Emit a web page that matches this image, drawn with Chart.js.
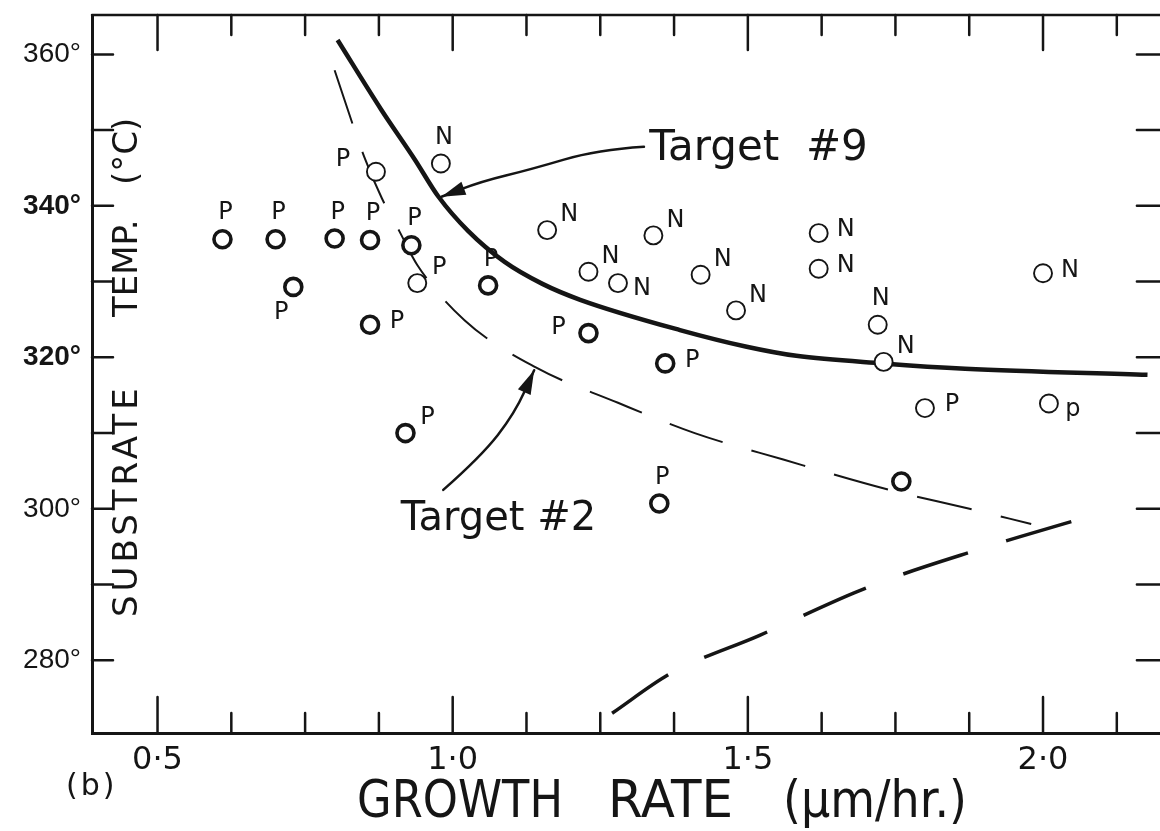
<!DOCTYPE html>
<html lang="en">
<head>
<meta charset="UTF-8">
<title>Substrate temperature vs growth rate</title>
<script src="https://cdn.jsdelivr.net/npm/chart.js@4.4.1/dist/chart.umd.min.js"></script>
<style>
  html, body { margin: 0; padding: 0; background: #fff; overflow: hidden; }
  #wrap { width: 1160px; height: 831px; overflow: hidden; }
  canvas { display: block; }
</style>
</head>
<body>
<div id="wrap"><canvas id="chart" width="1172" height="831"></canvas></div>
<script>
// growth rate (um/hr) and substrate temperature (deg C)
// heavy circles
const heavyRate = [0.61, 0.70, 0.80, 0.86, 0.93, 0.73, 1.06, 1.23, 0.86, 1.36, 0.92, 1.35, 1.76];
const heavyTemp = [335.6, 335.6, 335.7, 335.5, 334.8, 329.3, 329.5, 323.2, 324.3, 319.2, 310.0, 300.7, 303.6];
const heavyType = ['P', 'P', 'P', 'P', 'P', 'P', 'P', 'P', 'P', 'P', 'P', 'P', ''];
// light circles
const lightRate = [0.87, 0.98, 0.94, 1.16, 1.23, 1.28, 1.34, 1.42, 1.62, 1.62, 2.00, 1.48, 1.72, 1.73, 1.80, 2.01];
const lightTemp = [344.5, 345.6, 329.8, 336.8, 331.3, 329.8, 336.1, 330.9, 336.4, 331.7, 331.1, 326.2, 324.3, 319.4, 313.3, 313.9];
const lightType = ['P', 'N', 'P', 'N', 'N', 'N', 'N', 'N', 'N', 'N', 'N', 'N', 'N', 'N', 'P', 'p'];

// Target #9 boundary (solid)
const t9Rate = [0.805, 0.879, 0.936, 0.976, 1.026, 1.088, 1.152, 1.216, 1.385, 1.498, 1.582, 1.729, 1.868, 2.177];
const t9Temp = [361.9, 352.7, 346.1, 341.2, 336.7, 332.6, 329.7, 327.6, 323.6, 321.4, 320.2, 319.2, 318.5, 317.7];
// Target #2 boundary (thin dashed)
const t2Rate = [0.80, 0.85, 0.88, 0.91, 0.94, 1.02, 1.14, 1.28, 1.41, 1.56, 1.74, 1.87, 1.98];
const t2Temp = [357.9, 346.5, 341.0, 336.6, 332.2, 324.9, 318.7, 314.0, 310.0, 306.5, 302.5, 300.1, 298.0];
// lower branch (heavy dashed)
const lowRate = [1.27, 1.37, 1.52, 1.68, 1.76, 1.89, 1.96, 2.07];
const lowTemp = [273.0, 278.3, 283.3, 288.9, 291.3, 294.6, 296.3, 298.8];

// axis ticks
const xTickValues = [0.5, 0.625, 0.75, 0.875, 1.0, 1.125, 1.25, 1.375, 1.5, 1.625, 1.75, 1.875, 2.0, 2.125];
const xLabelValues = [0.5, 1.0, 1.5, 2.0];
const xTickLabels = ['0·5', '1·0', '1·5', '2·0'];
const yTickValues = [280, 290, 300, 310, 320, 330, 340, 350, 360];
const yLabelValues = [280, 300, 320, 340, 360];
const yTickLabels = ['280°', '300°', '320°', '340°', '360°'];

// arrows for the two labels (data coords, tail -> tip)
const arrow9 = [[1.324, 347.8], [1.245, 347.4], [1.132, 344.8], [1.048, 343.2], [0.981, 341.2]];
const arrow2 = [[0.984, 302.5], [1.048, 306.9], [1.105, 312.6], [1.138, 318.3]];

const ink = '#151515';

// where each P / N letter sits around its circle
const heavySpot = ['n', 'n', 'n', 'n', 'n', 'sw', 'n', 'w', 'e', 'e', 'ne', 'n', ''];
const lightSpot = ['nw', 'n', 'ne', 'ne', 'ne', 'se', 'ne', 'ne', 'e', 'e', 'e', 'ne', 'n', 'ne', 'e', 'se'];
const spotOffset = { n: [3, -26], ne: [22, -15], e: [27, -3], se: [24, 6], sw: [-12, 26], w: [-30, -5], nw: [-33, -12] };

const toXY = (xs, ys) => xs.map((x, i) => ({ x: x, y: ys[i] }));

function smoothPath(ctx, pts) {
    ctx.moveTo(pts[0][0], pts[0][1]);
    for (let i = 1; i < pts.length - 1; i++) {
        const mx = (pts[i][0] + pts[i + 1][0]) / 2;
        const my = (pts[i][1] + pts[i + 1][1]) / 2;
        ctx.quadraticCurveTo(pts[i][0], pts[i][1], mx, my);
    }
    const last = pts[pts.length - 1];
    ctx.lineTo(last[0], last[1]);
}

function drawArrow(ctx, xs, ys, path) {
    const pts = path.map(p => [xs.getPixelForValue(p[0]), ys.getPixelForValue(p[1])]);
    ctx.beginPath();
    smoothPath(ctx, pts);
    ctx.lineWidth = 2.5;
    ctx.stroke();
    const tip = pts[pts.length - 1], prev = pts[pts.length - 2];
    const a = Math.atan2(tip[1] - prev[1], tip[0] - prev[0]);
    const len = 24, half = 7;
    ctx.beginPath();
    ctx.moveTo(tip[0], tip[1]);
    ctx.lineTo(tip[0] - len * Math.cos(a) + half * Math.sin(a), tip[1] - len * Math.sin(a) - half * Math.cos(a));
    ctx.lineTo(tip[0] - len * Math.cos(a) - half * Math.sin(a), tip[1] - len * Math.sin(a) + half * Math.cos(a));
    ctx.closePath();
    ctx.fill();
}

const sketchPlugin = {
    id: 'sketch',
    afterDatasetsDraw(chart) {
        const ctx = chart.ctx;
        const area = chart.chartArea;
        const xs = chart.scales.x, ys = chart.scales.y;
        ctx.save();
        ctx.strokeStyle = ink;
        ctx.fillStyle = ink;
        ctx.lineCap = 'round';

        // top frame line
        ctx.lineWidth = 2.5;
        ctx.beginPath();
        ctx.moveTo(area.left, area.top);
        ctx.lineTo(area.right, area.top);
        ctx.stroke();

        // inward ticks on all four sides
        ctx.lineWidth = 2.5;
        xs.ticks.forEach(t => {
            const px = xs.getPixelForValue(t.value);
            const big = xLabelValues.includes(t.value);
            ctx.beginPath();
            ctx.moveTo(px, area.bottom);
            ctx.lineTo(px, area.bottom - (big ? 36 : 20));
            ctx.moveTo(px, area.top);
            ctx.lineTo(px, area.top + (big ? 35 : 20));
            ctx.stroke();
        });
        ys.ticks.forEach(t => {
            const py = ys.getPixelForValue(t.value);
            ctx.beginPath();
            ctx.moveTo(area.left, py);
            ctx.lineTo(area.left + 21, py);
            ctx.moveTo(area.right, py);
            ctx.lineTo(area.right - 23, py);
            ctx.stroke();
        });

        // P / N letters beside the circles
        ctx.font = '24px "DejaVu Sans"';
        ctx.textAlign = 'center';
        ctx.textBaseline = 'middle';
        [[0, heavyType, heavySpot], [1, lightType, lightSpot]].forEach(([di, types, spots]) => {
            const meta = chart.getDatasetMeta(di);
            meta.data.forEach((pt, i) => {
                if (!types[i]) return;
                const off = spotOffset[spots[i]];
                ctx.fillText(types[i], pt.x + off[0], pt.y + off[1]);
            });
        });

        // label arrows
        drawArrow(ctx, xs, ys, arrow9);
        drawArrow(ctx, xs, ys, arrow2);

        // target labels
        ctx.textAlign = 'left';
        ctx.textBaseline = 'alphabetic';
        ctx.font = '42px "DejaVu Sans"';
        ctx.fillText('Target  #9', xs.getPixelForValue(1.333), ys.getPixelForValue(346.0));
        ctx.font = '40px "DejaVu Sans"';
        ctx.fillText('Target #2', xs.getPixelForValue(0.912), ys.getPixelForValue(297.2));

        // y axis title, drawn inside the frame
        ctx.font = '34px "DejaVu Sans"';
        const tx = area.left + 45;
        [['SUBSTRATE', 617, '4px'], ['TEMP.', 317, '0px'], ['(°C)', 185, '0px']].forEach(([txt, y0, sp]) => {
            ctx.save();
            ctx.translate(tx, y0);
            ctx.rotate(-Math.PI / 2);
            ctx.letterSpacing = sp;
            ctx.fillText(txt, 0, 0);
            ctx.restore();
        });

        // x axis title
        ctx.font = '52px "DejaVu Sans"';
        ctx.fillText('GROWTH', 357, 817, 206);
        ctx.fillText('RATE', 608, 817, 125);
        ctx.fillText('(µm/hr.)', 783, 817, 184);

        // panel letter
        ctx.font = '30px "DejaVu Sans"';
        ctx.letterSpacing = '3px';
        ctx.fillText('(b)', 66, 795);
        ctx.restore();
    }
};

const noPad = s => { s.paddingLeft = 0; s.paddingRight = 0; s.paddingTop = 0; s.paddingBottom = 0; };

new Chart(document.getElementById('chart'), {
    type: 'scatter',
    data: {
        datasets: [{
            data: toXY(heavyRate, heavyTemp),
            pointRadius: 8.5,
            pointBorderWidth: 3.6,
            pointBackgroundColor: '#fff',
            pointBorderColor: ink,
            showLine: false
        }, {
            data: toXY(lightRate, lightTemp),
            pointRadius: 9,
            pointBorderWidth: 1.9,
            pointBackgroundColor: '#fff',
            pointBorderColor: ink,
            showLine: false
        }, {
            data: toXY(t9Rate, t9Temp),
            showLine: true,
            pointRadius: 0,
            borderColor: ink,
            borderWidth: 4.5,
            cubicInterpolationMode: 'monotone'
        }, {
            data: toXY(t2Rate, t2Temp),
            showLine: true,
            pointRadius: 0,
            borderColor: ink,
            borderWidth: 2,
            borderDash: [56, 30],
            cubicInterpolationMode: 'monotone'
        }, {
            data: toXY(lowRate, lowTemp),
            showLine: true,
            pointRadius: 0,
            borderColor: ink,
            borderWidth: 3.5,
            borderDash: [68, 40],
            cubicInterpolationMode: 'monotone'
        }]
    },
    options: {
        responsive: false,
        animation: false,
        layout: { padding: { left: 0, top: 15, right: 6, bottom: 0 } },
        plugins: {
            legend: { display: false },
            tooltip: { enabled: false }
        },
        scales: {
            x: {
                type: 'linear',
                min: 0.389,
                max: 2.198,
                afterBuildTicks: s => { s.ticks = xTickValues.map(v => ({ value: v })); },
                afterFit: s => { s.height = 98; noPad(s); },
                grid: { display: true, drawOnChartArea: false, drawTicks: false },
                border: { display: true, color: ink, width: 3 },
                ticks: {
                    autoSkip: false,
                    maxRotation: 0,
                    padding: 8,
                    color: ink,
                    font: { family: 'DejaVu Sans', size: 32 },
                    callback: v => {
                        const i = xLabelValues.indexOf(v);
                        return i < 0 ? '' : xTickLabels[i];
                    }
                }
            },
            y: {
                type: 'linear',
                min: 270.4,
                max: 365.2,
                afterBuildTicks: s => { s.ticks = yTickValues.map(v => ({ value: v })); },
                afterFit: s => { s.width = 92; noPad(s); },
                grid: { display: true, drawOnChartArea: false, drawTicks: false },
                border: { display: true, color: ink, width: 3 },
                ticks: {
                    autoSkip: false,
                    padding: 11,
                    color: ink,
                    font: c => ({
                        family: 'Liberation Sans',
                        size: 28,
                        weight: (c.tick && (c.tick.value === 320 || c.tick.value === 340)) ? 'bold' : 'normal'
                    }),
                    callback: v => {
                        const i = yLabelValues.indexOf(v);
                        return i < 0 ? '' : yTickLabels[i];
                    }
                }
            }
        }
    },
    plugins: [sketchPlugin]
});
</script>
</body>
</html>
